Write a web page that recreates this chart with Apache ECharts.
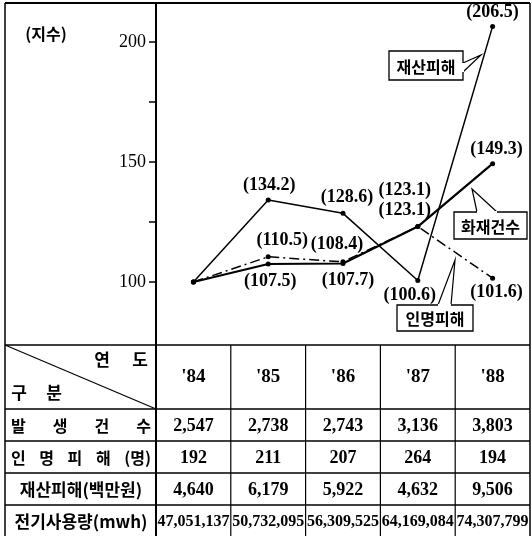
<!DOCTYPE html>
<html><head><meta charset="utf-8">
<script src="https://cdn.jsdelivr.net/npm/echarts@6/dist/echarts.min.js"></script>
<style>html,body{margin:0;padding:0;background:#fff}#c{width:532px;height:536px}</style>
</head><body><div id="c"></div>
<script>
// ---- data ----
const years = ["'84", "'85", "'86", "'87", "'88"];
const propertyIdx = [100, 134.2, 128.6, 100.6, 206.5];   // 재산피해
const fireIdx = [100, 107.5, 107.7, 123.1, 149.3];       // 화재건수
const casualtyIdx = [100, 110.5, 108.4, 123.1, 101.6];   // 인명피해
const yTickLabels = [100, 150, 200];
const yTicks = [100, 125, 150, 175, 200];
const rowHeads = ['발 생 건 수', '인 명 피 해 (명)', '재산피해(백만원)', '전기사용량(mwh)'];
const fireCounts = [2547, 2738, 2743, 3136, 3803];
const casualties = [192, 211, 207, 264, 194];
const damage = [4640, 6179, 5922, 4632, 9506];
const power = [47051137, 50732095, 56309525, 64169084, 74307799];

// ---- label placement (style) ----
const propLabelOff = [null, [1, -15], [4, -16], [-8, 15], [0, -14]];
const fireLabelOff = [null, [2, 17], [5, 17], [-13, -16], [4, -14]];
const casLabelOff = [null, [14, -16], [-6, -17], [-13, -36], [4, 14]];

const SERIF = 'Liberation Serif';
const KR = 'Noto Sans CJK KR';
const gridLeft = 156, gridRight = 530;
const colW = (gridRight - gridLeft) / years.length;
const frameL = 5, frameT = 3, bottomY = 536;
const rowY = [345, 409, 441, 473, 505, 537];

const mctx = document.createElement('canvas').getContext('2d');
function measure(t, font) { mctx.font = font; return mctx.measureText(t).width; }

function mkData(vals, offs) {
  return vals.map((v, i) => ({
    value: v,
    label: offs[i] ? { show: true, position: 'inside', offset: offs[i] } : { show: false }
  }));
}
const labelBase = {
  show: true, color: '#000', fontFamily: SERIF, fontSize: 18, fontWeight: 'bold',
  formatter: p => '(' + p.value.toFixed(1) + ')'
};
function line(x1, y1, x2, y2, w) {
  return { type: 'line', shape: { x1, y1, x2, y2 }, style: { stroke: '#000', lineWidth: w || 1.5 }, silent: true };
}
function fontStr(font, size, weight) { return (weight || 'bold') + ' ' + size + 'px "' + font + '"'; }
function txt(x, y, t, font, size, align, weight) {
  return { type: 'text', x, y, style: { text: t, fill: '#000', font: fontStr(font, size, weight), textAlign: align || 'center', textVerticalAlign: 'middle' }, silent: true };
}
function callout(x, y, w, h, label, tail) {
  const els = [];
  els.push({ type: 'rect', shape: { x, y, width: w, height: h }, style: { fill: '#fff', stroke: '#000', lineWidth: 1.3 }, z: 10 });
  els.push({ type: 'polyline', shape: { points: tail }, style: { stroke: '#000', lineWidth: 1.2, fill: null }, z: 11 });
  els.push({ type: 'line', shape: { x1: tail[0][0], y1: tail[0][1], x2: tail[2][0], y2: tail[2][1] }, style: { stroke: '#fff', lineWidth: 2 }, z: 12 });
  els.push({ type: 'text', x: x + w / 2, y: y + h / 2 + 1, z: 13, style: { text: label, fill: '#000', font: 'bold 16px "' + KR + '"', textAlign: 'center', textVerticalAlign: 'middle' } });
  return els;
}

const g = [];
// frame
g.push(line(frameL, frameT, gridRight, frameT, 2));
g.push(line(frameL, frameT, frameL, bottomY, 1.5));
g.push(line(gridRight, frameT, gridRight, bottomY, 1.5));
g.push(line(gridLeft, frameT, gridLeft, bottomY, 2));
// table rows
for (let r = 0; r < rowY.length - 1; r++) g.push(line(frameL, rowY[r], gridRight, rowY[r], 1.5));
for (let c = 1; c < years.length; c++) g.push(line(gridLeft + c * colW, rowY[0], gridLeft + c * colW, bottomY, 1.2));
g.push(line(frameL, rowY[0], gridLeft, rowY[1], 1.2));
// header
g.push(txt(102, 360, '연', KR, 17));
g.push(txt(140, 360, '도', KR, 17));
g.push(txt(19, 393, '구', KR, 17));
g.push(txt(54, 393, '분', KR, 17));
years.forEach((y, i) => g.push(txt(gridLeft + (i + 0.5) * colW, (rowY[0] + rowY[1]) / 2, y, SERIF, 19)));
// row heads (spaced ones justified across the cell)
rowHeads.forEach((h, r) => {
  const cy = (rowY[r + 1] + rowY[r + 2]) / 2 + 1;
  const parts = h.split(' ');
  const x0 = 11, x1 = 151;
  if (parts.length > 1) {
    const f = fontStr(KR, 16);
    const widths = parts.map(p => measure(p, f));
    const total = widths.reduce((a, b) => a + b, 0);
    const gap = (x1 - x0 - total) / (parts.length - 1);
    let x = x0;
    parts.forEach((p, k) => { g.push(txt(x, cy, p, KR, 16, 'left')); x += widths[k] + gap; });
  } else {
    g.push(txt((x0 + x1) / 2, cy, h, KR, 17));
  }
});
// row values
[fireCounts, casualties, damage, power].forEach((arr, r) => {
  const cy = (rowY[r + 1] + rowY[r + 2]) / 2 + 1;
  arr.forEach((v, i) => g.push(txt(gridLeft + (i + 0.5) * colW, cy, v.toLocaleString('en-US'), SERIF, r === 3 ? 16 : 18)));
});
// (지수)
g.push(txt(46, 34, '(지수)', KR, 16));
// callouts
g.push(...callout(389, 51, 74, 29, '재산피해', [[463, 63], [481, 55], [463, 72]]));
g.push(...callout(454, 212, 73, 27, '화재건수', [[477, 212], [472, 189], [497, 212]]));
g.push(...callout(397, 305, 76, 26, '인명피해', [[438, 305], [455, 260], [451, 305]]));

const chart = echarts.init(document.getElementById('c'), null, { renderer: 'canvas' });
chart.setOption({
  animation: false,
  backgroundColor: '#fff',
  grid: { left: gridLeft, right: 532 - gridRight, top: 3.6, bottom: 536 - 344.4, containLabel: false },
  xAxis: { type: 'category', data: years, boundaryGap: true, show: false },
  yAxis: {
    type: 'value', min: 74, max: 216,
    axisLine: { show: true, lineStyle: { color: '#000', width: 2 } },
    axisTick: { show: true, customValues: yTicks, length: 7, lineStyle: { color: '#000', width: 1.5 } },
    axisLabel: { customValues: yTickLabels, color: '#000', fontFamily: SERIF, fontSize: 18, margin: 10 },
    splitLine: { show: false }
  },
  series: [
    { name: '재산피해', type: 'line', data: mkData(propertyIdx, propLabelOff), symbol: 'circle', symbolSize: 5,
      itemStyle: { color: '#000' }, lineStyle: { color: '#000', width: 1.5 }, label: labelBase },
    { name: '화재건수', type: 'line', data: mkData(fireIdx, fireLabelOff), symbol: 'circle', symbolSize: 5,
      itemStyle: { color: '#000' }, lineStyle: { color: '#000', width: 2.2 }, label: labelBase },
    { name: '인명피해', type: 'line', data: mkData(casualtyIdx, casLabelOff), symbol: 'circle', symbolSize: 5,
      itemStyle: { color: '#000' }, lineStyle: { color: '#000', width: 1.5, type: [10, 4, 2, 4] }, label: labelBase }
  ],
  graphic: g
});
</script></body></html>
